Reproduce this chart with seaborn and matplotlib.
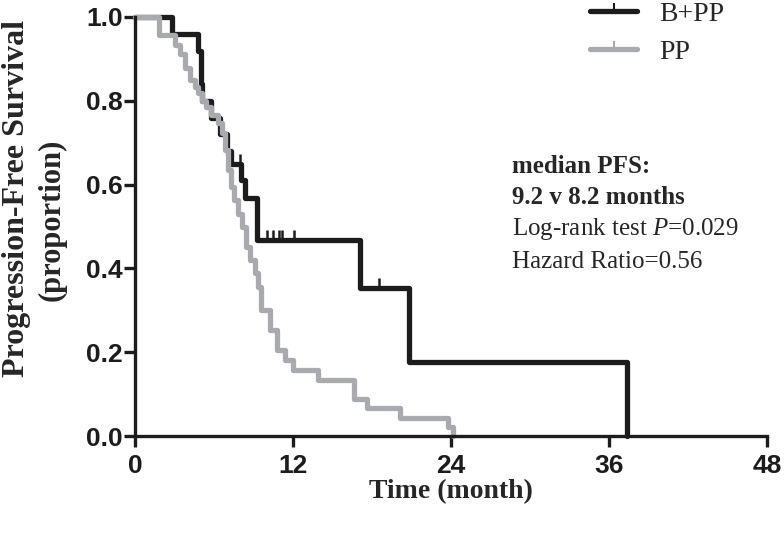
import numpy as np
import matplotlib
matplotlib.use("Agg")
import matplotlib.pyplot as plt
from matplotlib.lines import Line2D
import pandas as pd
import seaborn as sns

# Kaplan-Meier steps (months, proportion)
bpp_time = [0, 2.8, 4.8, 5.0, 5.1, 5.8, 6.45, 7.0, 7.3, 8.05, 8.35, 9.3, 17.1, 20.8, 37.4]
bpp_surv = [1.0, 0.96, 0.92, 0.84, 0.80, 0.76, 0.72, 0.68, 0.65, 0.61, 0.567, 0.468, 0.353, 0.176, 0.0]
bpp_cens_time = [7.95, 10.0, 10.5, 10.9, 11.2, 12.1, 18.5]
bpp_cens_surv = [0.65, 0.468, 0.468, 0.468, 0.468, 0.468, 0.353]

pp_time = [0, 1.8, 3.0, 3.4, 3.8, 4.2, 4.56, 4.8, 5.06, 5.4, 5.8, 6.3, 6.6, 6.8, 7.1, 7.3,
           7.55, 7.8, 8.1, 8.45, 8.7, 9.1, 9.35, 9.6, 10.25, 10.8, 11.4, 12.0, 13.9, 16.6,
           17.6, 20.1, 23.8, 24.15]
pp_surv = [1.0, 0.956, 0.933, 0.911, 0.878, 0.85, 0.834, 0.818, 0.80, 0.786, 0.766, 0.747,
           0.723, 0.683, 0.635, 0.595, 0.563, 0.53, 0.50, 0.452, 0.42, 0.389, 0.356, 0.30,
           0.253, 0.205, 0.181, 0.157, 0.134, 0.089, 0.067, 0.044, 0.022, 0.0]

groups = ["B+PP", "PP"]
x_ticks = [0, 12, 24, 36, 48]
y_ticks = [0.0, 0.2, 0.4, 0.6, 0.8, 1.0]

black = "#1c1c1c"
grey = "#a9aaad"

sns.set_theme(style="ticks")
plt.rcParams["font.family"] = ["Liberation Serif", "DejaVu Serif"]
plt.rcParams["mathtext.fontset"] = "custom"
plt.rcParams["mathtext.rm"] = "Liberation Serif"
plt.rcParams["mathtext.it"] = "Liberation Serif:italic"

df = pd.concat([
    pd.DataFrame({"time": bpp_time, "surv": bpp_surv, "group": groups[0]}),
    pd.DataFrame({"time": pp_time, "surv": pp_surv, "group": groups[1]}),
])

fig = plt.figure(figsize=(7.84, 5.35), dpi=100)
ax = fig.add_axes([135 / 784, 99 / 535, 632 / 784, 419 / 535])

sns.lineplot(data=df, x="time", y="surv", hue="group", palette=[black, grey],
             estimator=None, sort=False, drawstyle="steps-post", linewidth=3.8,
             legend=False, clip_on=False, ax=ax)

ax.plot(bpp_cens_time, bpp_cens_surv, ls="none", marker=2, ms=7, mew=1.8,
        color=black, clip_on=False)

ax.set_xlim(0, 48)
ax.set_ylim(0, 1.0)
ax.set_xticks(x_ticks)
ax.set_yticks(y_ticks)
ax.set_yticklabels([f"{v:.1f}" for v in y_ticks])
for lab in ax.get_xticklabels() + ax.get_yticklabels():
    lab.set_fontfamily(["Liberation Sans", "DejaVu Sans"])
    lab.set_fontweight("bold")
    lab.set_fontsize(19)
    lab.set_color("#1c1c1c")

sns.despine(ax=ax)
for s in ["left", "bottom"]:
    ax.spines[s].set_linewidth(2.4)
    ax.spines[s].set_color(black)
ax.tick_params(axis="both", direction="out", width=2.4, color=black, length=8)
ax.tick_params(axis="y", pad=1)
ax.tick_params(axis="x", pad=5)

ax.set_xlabel("Time (month)", fontsize=20, fontweight="bold", labelpad=1)
ax.set_ylabel("Progression-Free Survival", fontsize=23, fontweight="bold")
ax.yaxis.set_label_coords(-0.164, 0.568)
ax.text(-0.131, 0.516, "(proportion)", transform=ax.transAxes, rotation=90,
        fontsize=22, fontweight="bold", ha="center", va="center")

tx = 28.6
ax.text(tx, 0.644, "median PFS:", fontsize=18, fontweight="bold", va="center")
ax.text(tx, 0.570, "9.2 v 8.2 months", fontsize=18, fontweight="bold", va="center")
ax.text(tx, 0.494, "Log-rank test $\\mathit{P}$=0.029", fontsize=18, va="center")
ax.text(tx, 0.415, "Hazard Ratio=0.56", fontsize=18, va="center")

handles = [Line2D([], [], color=black, lw=3.8, marker=2, ms=6, mew=1.5),
           Line2D([], [], color=grey, lw=3.8, marker=2, ms=6, mew=1.5)]
fig.legend(handles, groups, loc="upper left", bbox_to_anchor=(590 / 784, 0.997),
           frameon=False, fontsize=20, handlelength=1.7, handletextpad=0.8,
           borderpad=0, borderaxespad=0, labelspacing=0.45, numpoints=1)

fig.savefig("out.png", dpi=100)
